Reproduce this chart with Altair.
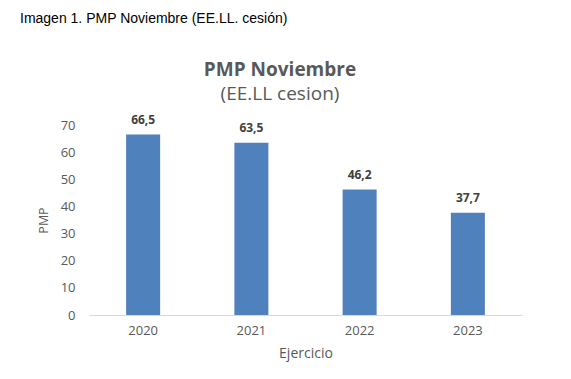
import altair as alt
import pandas as pd

years = ["2020", "2021", "2022", "2023"]
values = [66.5, 63.5, 46.2, 37.7]
labels = ["66,5", "63,5", "46,2", "37,7"]
y_ticks = [0, 10, 20, 30, 40, 50, 60, 70]

caption_text = "Imagen 1. PMP Noviembre (EE.LL. cesión)"
title_text = "PMP Noviembre"
subtitle_text = "(EE.LL cesion)"

df = pd.DataFrame({"Ejercicio": years, "PMP": values, "label": labels})

base = alt.Chart(df)

x_enc = alt.X("Ejercicio:N", sort=years, title="Ejercicio",
              scale=alt.Scale(paddingInner=0.6, paddingOuter=0.3),
              axis=alt.Axis(labelAngle=0, ticks=False, domainColor="#d9d9d9",
                            labelPadding=9, labelFontSize=13, labelColor="#595959",
                            labelFont="Open Sans", titleFont="Open Sans",
                            titleFontSize=14, titleFontWeight="normal",
                            titleColor="#595959", titlePadding=9))
y_enc = alt.Y("PMP:Q", title="PMP",
              scale=alt.Scale(domain=[0, 70], nice=False),
              axis=alt.Axis(values=y_ticks, grid=False, labelOverlap=False,
                            domain=False, ticks=False, labelPadding=14,
                            labelFontSize=13, labelColor="#595959",
                            labelFont="Open Sans", titleFont="Open Sans",
                            titleFontSize=12.5, titleFontWeight="normal",
                            titleColor="#595959", titlePadding=10))

bars = base.mark_bar(color="#4F81BD", size=34).encode(x=x_enc, y=y_enc)

text = base.mark_text(baseline="bottom", dy=-8, fontWeight="bold",
                      fontSize=12, font="Open Sans", color="#404040").encode(
    x=x_enc, y=y_enc, text="label:N",
)

caption = alt.Chart(pd.DataFrame({"t": [caption_text]})).mark_text(
    align="left", baseline="alphabetic", font="Liberation Sans", fontSize=14, color="#000000"
).encode(x=alt.value(-69), y=alt.value(-102), text="t:N")

title = alt.Chart(pd.DataFrame({"t": [title_text]})).mark_text(
    align="center", baseline="alphabetic", font="Open Sans", fontSize=19,
    fontWeight="bold", color="#595959"
).encode(x=alt.value(191), y=alt.value(-49), text="t:N")

subtitle = alt.Chart(pd.DataFrame({"t": [subtitle_text]})).mark_text(
    align="center", baseline="alphabetic", font="Open Sans", fontSize=19,
    color="#595959"
).encode(x=alt.value(191), y=alt.value(-25), text="t:N")

chart = alt.layer(bars, text, caption, title, subtitle).properties(
    width=433, height=190,
    autosize=alt.AutoSizeParams(type="none"),
    padding={"left": 81, "top": 117, "right": 41, "bottom": 56},
).configure_view(stroke=None)

chart.save("out.html", embed_options={"renderer": "svg", "actions": False})
